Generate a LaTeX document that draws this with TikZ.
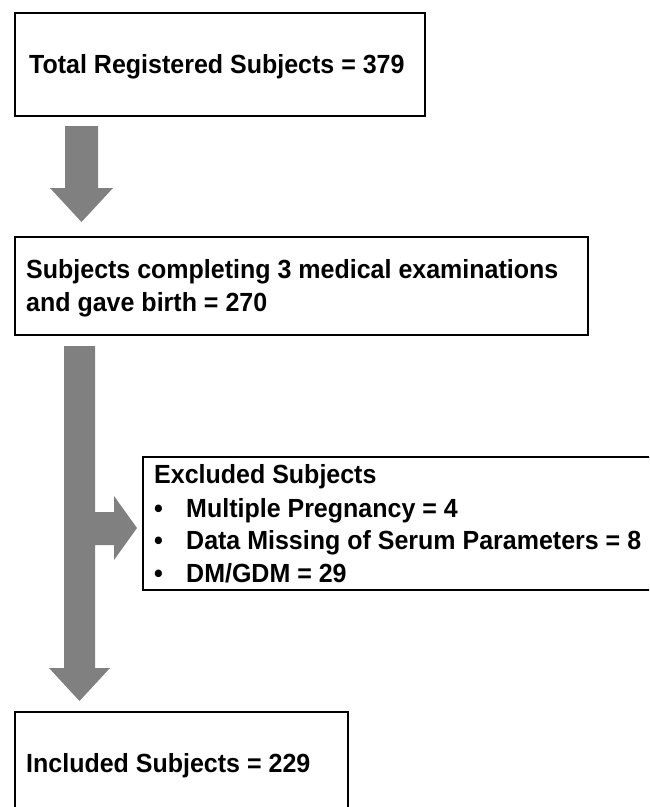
\documentclass[tikz,border=0pt]{standalone}
\usepackage{fontspec}
\setmainfont{Liberation Sans}
\definecolor{arrowgray}{RGB}{128,128,128}
\newcommand{\tallt}[1]{\scalebox{1}[1.05]{#1}}
\begin{document}
\begin{tikzpicture}[x=1pt,y=-1pt,
  box/.style={draw=black,line width=1.8pt,rectangle,inner sep=0pt},
  txt/.style={anchor=base west,inner sep=0pt,font=\fontsize{25}{30}\selectfont\bfseries},
  blockarrow/.style={fill=arrowgray,draw=none}]
\useasboundingbox (0,0) rectangle (649,807);
\clip (0,0) rectangle (649,807);
% boxes
\node[box,minimum width=410pt,minimum height=103pt] (b1) at (220,64.5) {};
\node[box,minimum width=573pt,minimum height=98pt] (b2) at (301.5,286) {};
\node[box,minimum width=512pt,minimum height=133pt] (b3) at (399,523.5) {};
\node[box,minimum width=333pt,minimum height=103pt] (b4) at (181.5,763.5) {};
% texts
\node[txt] (t1) at (29,73) {\tallt{Total Registered Subjects = 379}};
\node[txt] (t2a) at (26,278) {\tallt{Subjects completing 3 medical examinations}};
\node[txt] (t2b) at (26,311) {\tallt{and gave birth = 270}};
\node[txt] (t3) at (154,483) {\tallt{Excluded Subjects}};
\node[txt] (u1) at (154,517) {\tallt{•}};
\node[txt] (i1) at (186,517) {\tallt{Multiple Pregnancy = 4}};
\node[txt] (u2) at (154,549.5) {\tallt{•}};
\node[txt] (i2) at (186,549.5) {\tallt{Data Missing of Serum Parameters = 8}};
\node[txt] (u3) at (154,582) {\tallt{•}};
\node[txt] (i3) at (186,582) {\tallt{DM/GDM = 29}};
\node[txt] (t4) at (26,772) {\tallt{Included Subjects = 229}};
% block arrows
\fill[blockarrow] (65,126) -- (98,126) -- (98,188) -- (113,188) -- (81.5,222) -- (50,188) -- (65,188) -- cycle;
\fill[blockarrow] (64,346) -- (95,346) -- (95,512) -- (114,512) -- (114,496) -- (137,528) -- (114,560) -- (114,545) -- (95,545) -- (95,668) -- (110,668) -- (79.5,701) -- (49,668) -- (64,668) -- cycle;
\end{tikzpicture}
\end{document}
